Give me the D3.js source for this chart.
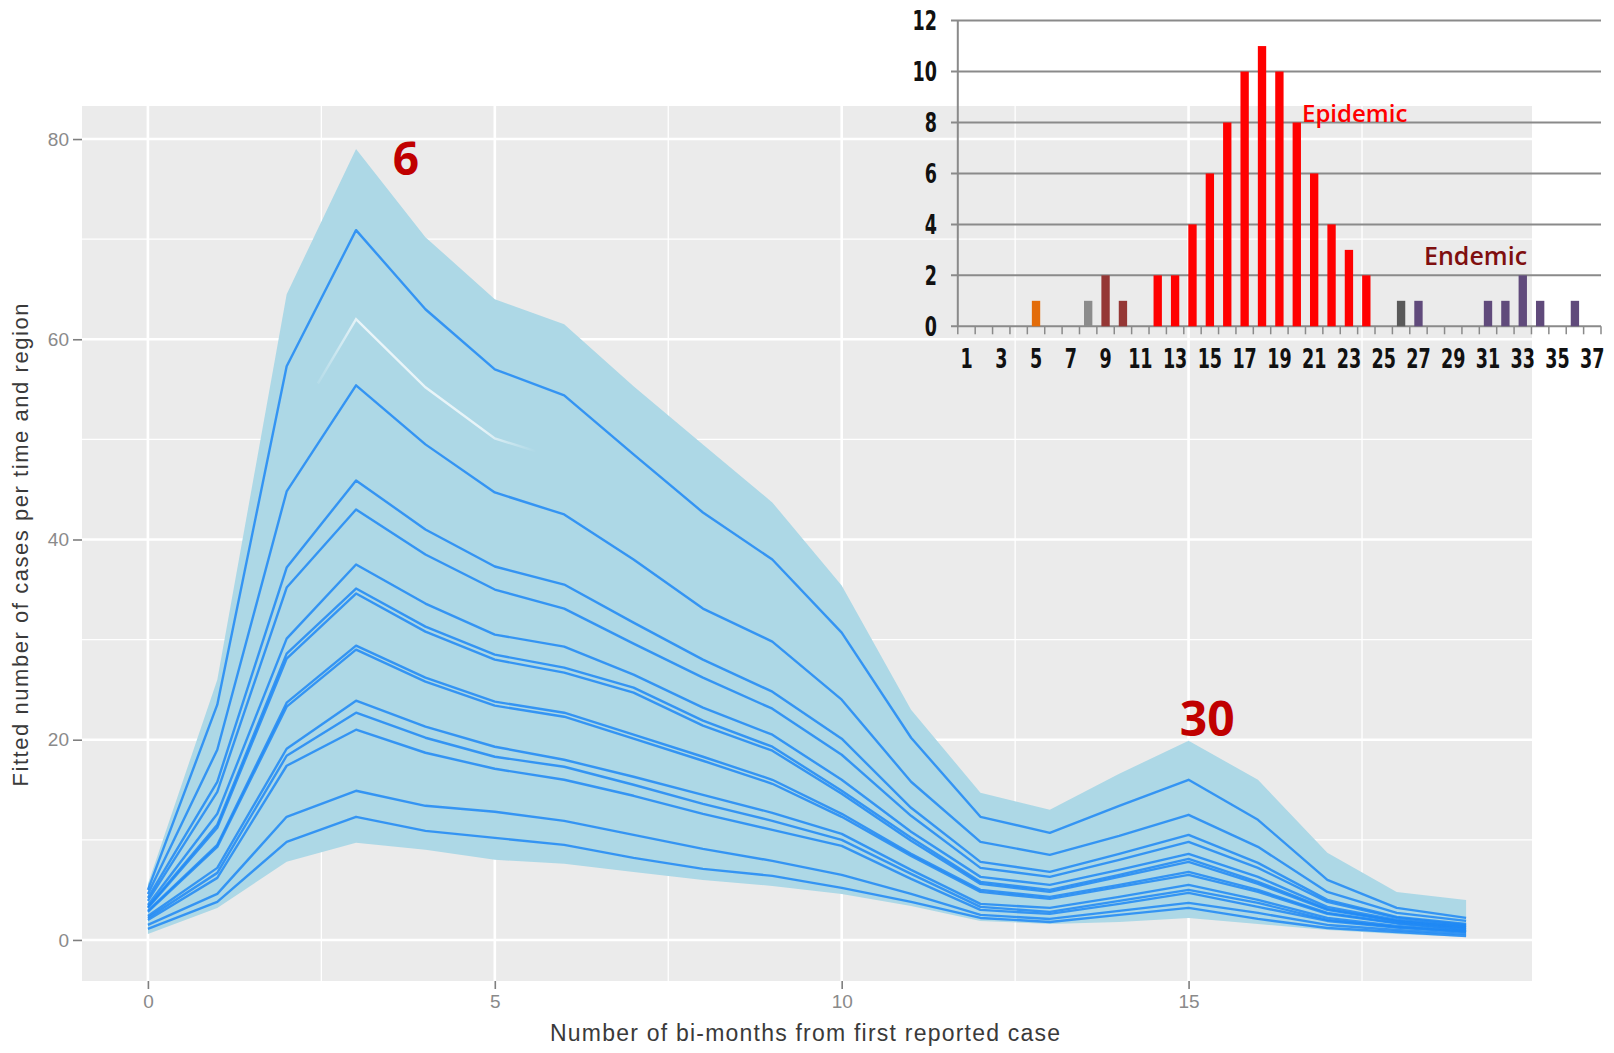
<!DOCTYPE html>
<html>
<head>
<meta charset="utf-8">
<script src="https://cdn.jsdelivr.net/npm/d3@7"></script>
<style>
body { margin: 0; background: #fff; }
svg { display: block; }
</style>
</head>
<body>
<svg></svg>
<script>
// main chart data: fitted cases per bi-month
const months = [0,1,2,3,4,5,6,7,8,9,10,11,12,13,14,15,16,17,18,19]
const ribbonHigh = [5.6,26,64.5,79,70.2,64,61.5,55.3,49.5,43.7,35.4,23,14.7,13,16.6,19.9,16,8.7,4.8,4.0]
const ribbonLow  = [0.6,3.2,7.8,9.7,9,8,7.6,6.8,6.0,5.4,4.6,3.4,1.9,1.6,1.8,2.2,1.6,1.0,0.6,0.3]

const lineA = [5.0,23.5,57.3,70.9,63,57,54.4,48.5,42.7,38,30.7,20.2,12.3,10.7,13.4,16,12,6,3.2,2.2]
const lineB = [4.6,19,44.8,55.4,49.5,44.7,42.5,38,33.1,29.8,24,15.8,9.8,8.5,10.4,12.5,9.3,4.8,2.7,1.9]
const lineC = [4.2,15.8,37.2,45.9,41,37.3,35.5,31.7,28,24.8,20.1,13.2,7.8,6.8,8.6,10.5,7.7,4.0,2.3,1.6]
const lineD = [3.9,14.8,35.2,43,38.5,35,33.1,29.6,26.2,23.1,18.5,12.4,7.2,6.3,8,9.8,7.2,3.8,2.2,1.5]
const lineE = [3.5,12.6,30.1,37.5,33.6,30.5,29.3,26.5,23.2,20.5,16,10.8,6.3,5.5,7,8.6,6.3,3.3,2.0,1.4]
const lineF = [3.3,11.5,28.6,35.1,31.3,28.5,27.2,25.2,21.9,19.3,14.9,10.2,5.8,5,6.5,8.1,5.8,3.1,1.9,1.3]
const lineF2 = [3.2,11.2,28.1,34.6,30.8,28.0,26.7,24.7,21.4,18.9,14.6,9.9,5.6,4.8,6.3,7.8,5.6,3.0,1.85,1.25]
const lineG = [2.9,9.5,23.7,29.4,26.2,23.8,22.7,20.5,18.3,16,12.6,8.6,5,4.3,5.5,6.8,5,2.7,1.7,1.1]
const lineG2 = [2.8,9.3,23.3,29.0,25.8,23.4,22.3,20.1,17.9,15.6,12.3,8.4,4.8,4.1,5.3,6.5,4.8,2.6,1.65,1.05]
const lineH = [2.4,7.2,19.1,23.9,21.3,19.3,18,16.3,14.5,12.7,10.6,7,3.6,3.2,4.3,5.5,4,2.2,1.4,0.9]
const lineI = [2.2,6.7,18.4,22.7,20.2,18.3,17.3,15.5,13.6,11.9,10,6.6,3.3,2.8,3.9,5,3.7,2.0,1.3,0.85]
const lineJ = [2.0,6.2,17.4,21,18.7,17.1,16,14.4,12.6,11,9.4,6.1,3.0,2.6,3.6,4.7,3.3,1.9,1.25,0.8]
const lineK = [1.5,4.6,12.3,14.9,13.4,12.8,11.9,10.5,9.1,7.9,6.5,4.6,2.5,2.1,2.9,3.7,2.7,1.5,1.0,0.6]
const lineL = [1.1,3.8,9.8,12.3,10.9,10.2,9.5,8.2,7.1,6.4,5.2,3.8,2.2,1.8,2.5,3.2,2.1,1.2,0.8,0.4]
const fittedLines = [lineA,lineB,lineC,lineD,lineE,lineF,lineF2,lineG,lineG2,lineH,lineI,lineJ,lineK,lineL]

// partly erased light line near the peak
const fadedX = [2.45,3,4,5,5.6]
const fadedY = [55.6,62,55.2,50.1,48.8]

const xTicks = [0,5,10,15]
const xMinor = [2.5,7.5,12.5,17.5]
const yTicks = [0,20,40,60,80]
const yMinor = [10,30,50,70]

const peakLabels = [{text:"6", x:3.72, y:76.4, size:46}, {text:"30", x:15.27, y:20.4, size:48}]

// inset bar chart data
const insetCats = [1,2,3,4,5,6,7,8,9,10,11,12,13,14,15,16,17,18,19,20,21,22,23,24,25,26,27,28,29,30,31,32,33,34,35,36,37]
const insetCounts = [0,0,0,0,1,0,0,1,2,1,0,2,2,4,6,8,10,11,10,8,6,4,3,2,0,1,1,0,0,0,1,1,2,1,0,1,0]
const insetGroups = ["n","n","n","n","first","n","n","grey","early","early","n","epi","epi","epi","epi","epi","epi","epi","epi","epi","epi","epi","epi","epi","n","dark","end","n","n","n","end","end","end","end","n","end","n"]
const insetYTicks = [0,2,4,6,8,10,12]
const insetXLabels = [1,3,5,7,9,11,13,15,17,19,21,23,25,27,29,31,33,35,37]

const svg = d3.select("svg")
svg
	.attr("width", 1614)
	.attr("height", 1053)

const x = d3.scaleLinear().domain([-0.95, 19.95]).range([82, 1532])
const y = d3.scaleLinear().domain([-4.1, 83.3]).range([981, 106])

// panel
svg.append("rect")
	.attr("x", x.range()[0]).attr("y", y.range()[1])
	.attr("width", x.range()[1] - x.range()[0])
	.attr("height", y.range()[0] - y.range()[1])
	.attr("fill", "#ebebeb")

const grid = svg.append("g")
grid.selectAll("line.xmin").data(xMinor).enter().append("line")
	.attr("x1", d => x(d)).attr("x2", d => x(d))
	.attr("y1", y.range()[0]).attr("y2", y.range()[1])
	.attr("stroke", "#fff").attr("stroke-width", 1.3)
grid.selectAll("line.ymin").data(yMinor).enter().append("line")
	.attr("y1", d => y(d)).attr("y2", d => y(d))
	.attr("x1", x.range()[0]).attr("x2", x.range()[1])
	.attr("stroke", "#fff").attr("stroke-width", 1.3)
grid.selectAll("line.xmaj").data(xTicks).enter().append("line")
	.attr("x1", d => x(d)).attr("x2", d => x(d))
	.attr("y1", y.range()[0]).attr("y2", y.range()[1])
	.attr("stroke", "#fff").attr("stroke-width", 2.6)
grid.selectAll("line.ymaj").data(yTicks).enter().append("line")
	.attr("y1", d => y(d)).attr("y2", d => y(d))
	.attr("x1", x.range()[0]).attr("x2", x.range()[1])
	.attr("stroke", "#fff").attr("stroke-width", 2.6)

// ribbon
const area = d3.area()
	.x((d, i) => x(months[i]))
	.y0((d, i) => y(ribbonLow[i]))
	.y1(d => y(d))
svg.append("path")
	.datum(ribbonHigh)
	.attr("d", area)
	.attr("fill", "#add8e6")

const line = d3.line()
	.x((d, i) => x(months[i]))
	.y(d => y(d))

svg.append("g").selectAll("path")
	.data(fittedLines)
	.enter()
	.append("path")
	.attr("d", line)
	.attr("fill", "none")
	.attr("stroke", "#1e88f5")
	.attr("stroke-opacity", 0.85)
	.attr("stroke-width", 2.4)
	.attr("stroke-linejoin", "round")

// faded light line
const defs = svg.append("defs")
const grad = defs.append("linearGradient")
	.attr("id", "fade")
	.attr("gradientUnits", "userSpaceOnUse")
	.attr("x1", x(fadedX[0])).attr("x2", x(fadedX[fadedX.length - 1]))
	.attr("y1", 0).attr("y2", 0)
grad.append("stop").attr("offset", "0").attr("stop-color", "#fff").attr("stop-opacity", 0.1)
grad.append("stop").attr("offset", "0.2").attr("stop-color", "#fff").attr("stop-opacity", 0.75)
grad.append("stop").attr("offset", "0.75").attr("stop-color", "#fff").attr("stop-opacity", 0.7)
grad.append("stop").attr("offset", "1").attr("stop-color", "#fff").attr("stop-opacity", 0)
svg.append("path")
	.datum(fadedY)
	.attr("d", d3.line().x((d, i) => x(fadedX[i])).y(d => y(d)))
	.attr("fill", "none")
	.attr("stroke", "url(#fade)")
	.attr("stroke-width", 2.4)

// axes
const xAxis = svg.append("g")
	.attr("transform", `translate(0,${y.range()[0]})`)
	.call(d3.axisBottom(x).tickValues(xTicks).tickSize(8).tickPadding(6))
const yAxis = svg.append("g")
	.attr("transform", `translate(${x.range()[0]},0)`)
	.call(d3.axisLeft(y).tickValues(yTicks).tickSize(9).tickPadding(4))
;[xAxis, yAxis].forEach(ax => {
	ax.select(".domain").remove()
	ax.selectAll("line").attr("stroke", "#7f7f7f").attr("stroke-width", 1.6)
	ax.selectAll("text")
		.attr("fill", "#8a8a8a")
		.style("font-family", "Liberation Sans, Arial, sans-serif")
		.style("font-size", "19px")
})

svg.append("text")
	.attr("x", 805).attr("y", 1041)
	.attr("text-anchor", "middle")
	.style("font-family", "Liberation Sans, Arial, sans-serif")
	.style("font-size", "23px")
	.attr("fill", "#3a3a3a")
	.attr("textLength", 510)
	.text("Number of bi-months from first reported case")

svg.append("text")
	.attr("transform", "translate(28,545) rotate(-90)")
	.attr("text-anchor", "middle")
	.style("font-family", "Liberation Sans, Arial, sans-serif")
	.style("font-size", "22px")
	.attr("fill", "#3a3a3a")
	.attr("textLength", 483)
	.text("Fitted number of cases per time and region")

svg.selectAll("text.peak")
	.data(peakLabels)
	.enter()
	.append("text")
	.attr("class", "peak")
	.attr("x", d => x(d.x))
	.attr("y", d => y(d.y))
	.attr("text-anchor", "middle")
	.style("font-family", "Open Sans, sans-serif")
	.style("font-weight", 700)
	.style("font-size", d => d.size + "px")
	.attr("fill", "#c00000")
	.text(d => d.text)

// ---- inset ----
const xb = d3.scaleBand().domain(insetCats).range([957.8, 1601])
const yb = d3.scaleLinear().domain([0, 12]).range([326.3, 20.6])
const groupColor = d3.scaleOrdinal()
	.domain(["n","first","grey","early","epi","dark","end"])
	.range(["none","#e36c09","#8c8c8c","#953735","#ff0000","#595959","#604a7b"])

const inset = svg.append("g")
inset.selectAll("line.grid")
	.data(insetYTicks)
	.enter()
	.append("line")
	.attr("x1", 951).attr("x2", xb.range()[1])
	.attr("y1", d => yb(d)).attr("y2", d => yb(d))
	.attr("stroke", "#8a8a8a")
	.attr("stroke-width", 2)

inset.append("line")
	.attr("x1", xb.range()[0]).attr("x2", xb.range()[0])
	.attr("y1", yb(12)).attr("y2", yb(0))
	.attr("stroke", "#8a8a8a").attr("stroke-width", 2)

const bw = xb.bandwidth() * 0.48
inset.selectAll("rect")
	.data(insetCats)
	.enter()
	.append("rect")
	.attr("x", d => xb(d) + (xb.bandwidth() - bw) / 2)
	.attr("width", bw)
	.attr("y", (d, i) => yb(insetCounts[i]))
	.attr("height", (d, i) => yb(0) - yb(insetCounts[i]))
	.attr("fill", (d, i) => groupColor(insetGroups[i]))

// category boundary ticks
inset.selectAll("line.tick")
	.data(insetCats.map(c => xb(c)).concat([xb.range()[1]]))
	.enter()
	.append("line")
	.attr("x1", d => d).attr("x2", d => d)
	.attr("y1", yb(0)).attr("y2", yb(0) + 8)
	.attr("stroke", "#8a8a8a").attr("stroke-width", 1.5)

// condensed bold digits, squeezed to the narrow face of the original
const digitW = 12.2
inset.selectAll("text.xl")
	.data(insetXLabels)
	.enter()
	.append("text")
	.attr("x", d => xb(d) + xb.bandwidth() / 2)
	.attr("y", 368)
	.attr("text-anchor", "middle")
	.attr("textLength", d => String(d).length * digitW)
	.attr("lengthAdjust", "spacingAndGlyphs")
	.style("font-family", "DejaVu Sans Condensed, DejaVu Sans, sans-serif")
	.style("font-weight", 700)
	.style("font-size", "27px")
	.attr("fill", "#111")
	.text(d => d)

inset.selectAll("text.yl")
	.data(insetYTicks)
	.enter()
	.append("text")
	.attr("x", 937)
	.attr("y", d => yb(d))
	.attr("dy", "0.36em")
	.attr("text-anchor", "end")
	.attr("textLength", d => String(d).length * digitW)
	.attr("lengthAdjust", "spacingAndGlyphs")
	.style("font-family", "DejaVu Sans Condensed, DejaVu Sans, sans-serif")
	.style("font-weight", 700)
	.style("font-size", "27px")
	.attr("fill", "#111")
	.text(d => d)

svg.append("text")
	.attr("x", 1302).attr("y", 122)
	.style("font-family", "Open Sans, sans-serif")
	.style("font-weight", 600)
	.style("font-size", "24px")
	.attr("fill", "#ff0000")
	.text("Epidemic")

svg.append("text")
	.attr("x", 1424).attr("y", 265)
	.style("font-family", "Open Sans, sans-serif")
	.style("font-weight", 600)
	.style("font-size", "25px")
	.attr("fill", "#7f0f0f")
	.text("Endemic")
</script>
</body>
</html>
